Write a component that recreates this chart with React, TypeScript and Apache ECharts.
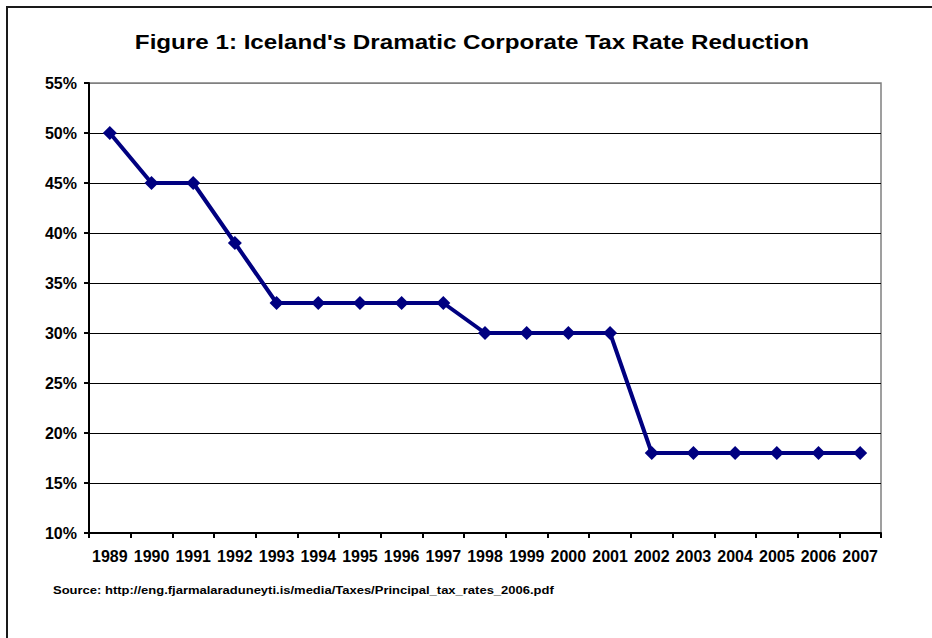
import React, { useEffect, useRef } from "react";
import * as echarts from "echarts";

const years = ["1989","1990","1991","1992","1993","1994","1995","1996","1997","1998","1999","2000","2001","2002","2003","2004","2005","2006","2007"];
const taxRates = [50, 45, 45, 39, 33, 33, 33, 33, 33, 30, 30, 30, 30, 18, 18, 18, 18, 18, 18];
const titleText = "Figure 1: Iceland's Dramatic Corporate Tax Rate Reduction";
const sourceText = "Source: http://eng.fjarmalaraduneyti.is/media/Taxes/Principal_tax_rates_2006.pdf";
const yMin = 10;
const yMax = 55;
const yStep = 5;

const FONT = "'Liberation Sans', Arial, sans-serif";

export default function App() {
  const ref = useRef<HTMLDivElement>(null);
  useEffect(() => {
    if (!ref.current) return;
    const chart = echarts.init(ref.current, null, { renderer: "svg" });
    const splitColors: string[] = [];
    for (let v = yMin; v <= yMax; v += yStep) splitColors.push(v === yMax ? "#808080" : "#000000");
    chart.setOption({
      animation: false,
      backgroundColor: "#ffffff",
      grid: {
        left: 89, top: 83, right: 51, bottom: 105,
        show: true, borderColor: "#808080", borderWidth: 1.5, backgroundColor: "#fff",
      },
      xAxis: {
        type: "category",
        data: years,
        boundaryGap: true,
        axisLine: { lineStyle: { color: "#000", width: 2 } },
        axisTick: { show: true, inside: false, length: 5, interval: 0, lineStyle: { color: "#000", width: 2 } },
        axisLabel: { interval: 0, margin: 15, fontFamily: FONT, fontWeight: "bold", fontSize: 16, color: "#000" },
        splitLine: { show: false },
      },
      yAxis: {
        type: "value",
        min: yMin, max: yMax, interval: yStep,
        axisLine: { show: true, lineStyle: { color: "#000", width: 2 } },
        axisTick: { show: true, length: 5, lineStyle: { color: "#000", width: 2 } },
        axisLabel: { margin: 12, formatter: (v: number) => `${v}%`, fontFamily: FONT, fontWeight: "bold", fontSize: 16, color: "#000" },
        splitLine: { show: true, lineStyle: { color: splitColors, width: 1 } },
      },
      graphic: [
        {
          type: "polyline",
          shape: { points: [[7, 700], [7, 7], [1000, 7]] },
          style: { fill: "none", stroke: "#1a1a1a", lineWidth: 2 },
          silent: true,
          z: 100,
        },
        {
          type: "text",
          x: 472,
          y: 42.5,
          scaleX: 1.18,
          style: {
            text: titleText, align: "center", verticalAlign: "middle",
            fontFamily: FONT, fontWeight: "bold", fontSize: 20.5, fill: "#000",
          },
        },
        {
          type: "text",
          x: 53,
          y: 590,
          scaleX: 1.13,
          style: {
            text: sourceText, align: "left", verticalAlign: "middle",
            fontFamily: FONT, fontWeight: "bold", fontSize: 11.5, fill: "#000",
          },
        },
      ],
      series: [
        {
          type: "line",
          data: taxRates,
          symbol: "diamond",
          symbolSize: 14,
          lineStyle: { color: "#000080", width: 4 },
          itemStyle: { color: "#000080" },
          z: 5,
        },
      ],
    });
    return () => chart.dispose();
  }, []);
  return <div ref={ref} style={{ position: "fixed", left: 0, top: 0, width: 932, height: 638 }} />;
}
